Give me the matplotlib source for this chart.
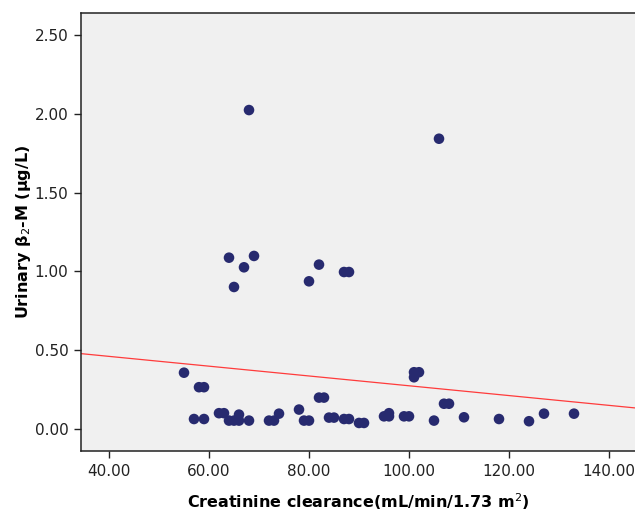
import matplotlib
matplotlib.use("Agg")
import matplotlib.pyplot as plt
import numpy as np

# Data
clearance = [68, 106, 64, 69, 67, 65, 82, 80, 87, 88,
             55, 58, 59, 57, 59, 62, 63, 64, 65, 66, 66, 68, 72, 73, 74, 78, 79, 80,
             82, 83, 84, 85, 87, 88, 90, 91,
             95, 96, 96, 99, 100, 101, 102, 101, 105, 107, 108, 111, 118, 124, 127, 133]
b2m = [2.024, 1.842, 1.087, 1.098, 1.026, 0.901, 1.043, 0.937, 0.996, 0.996,
       0.357, 0.265, 0.265, 0.063, 0.063, 0.10, 0.10, 0.053, 0.053, 0.053, 0.091, 0.053, 0.053, 0.053, 0.097, 0.123, 0.053, 0.053,
       0.199, 0.199, 0.072, 0.072, 0.063, 0.063, 0.038, 0.038,
       0.08, 0.08, 0.10, 0.08, 0.08, 0.36, 0.36, 0.328, 0.053, 0.16, 0.16, 0.074, 0.063, 0.049, 0.097, 0.097]

fit_intercept = 0.585
fit_slope = -0.00311

x_ticks = [40, 60, 80, 100, 120, 140]
y_ticks = [0.0, 0.5, 1.0, 1.5, 2.0, 2.5]
x_tick_labels = ["40.00", "60.00", "80.00", "100.00", "120.00", "140.00"]
y_tick_labels = ["0.00", "0.50", "1.00", "1.50", "2.00", "2.50"]

plt.rcParams['font.family'] = ['DejaVu Sans']

fig = plt.figure(figsize=(6.35, 5.15), dpi=100)
ax = fig.add_axes([81/635, 1 - 451/515, 1 - 81/635, (451 - 13)/515])
ax.set_facecolor('#F0F0F0')

xlim = (34.4, 145.2)
ax.set_xlim(*xlim)
ax.set_ylim(-0.14, 2.64)

xs = np.array(xlim)
ax.plot(xs, fit_intercept + fit_slope * xs, color='#FF3B3B', lw=0.9, zorder=2)
ax.scatter(clearance, b2m, s=58, color='#272A6F', edgecolors='none', zorder=3)

ax.set_xticks(x_ticks)
ax.set_xticklabels(x_tick_labels)
ax.set_yticks(y_ticks)
ax.set_yticklabels(y_tick_labels)
ax.tick_params(axis='both', direction='out', length=5, width=1, labelsize=11, colors='#222222', pad=4)

for s in ['left', 'bottom', 'top']:
    ax.spines[s].set_color('#222222')
    ax.spines[s].set_linewidth(1.1)
ax.spines['right'].set_visible(False)

ax.set_xlabel('Creatinine clearance(mL/min/1.73 m$^{2}$)', fontsize=11.5, fontweight='bold', labelpad=9)
ax.set_ylabel('Urinary β$_{2}$-M (μg/L)', fontsize=11.5, fontweight='bold', labelpad=1)

fig.savefig('out.png', dpi=100)
